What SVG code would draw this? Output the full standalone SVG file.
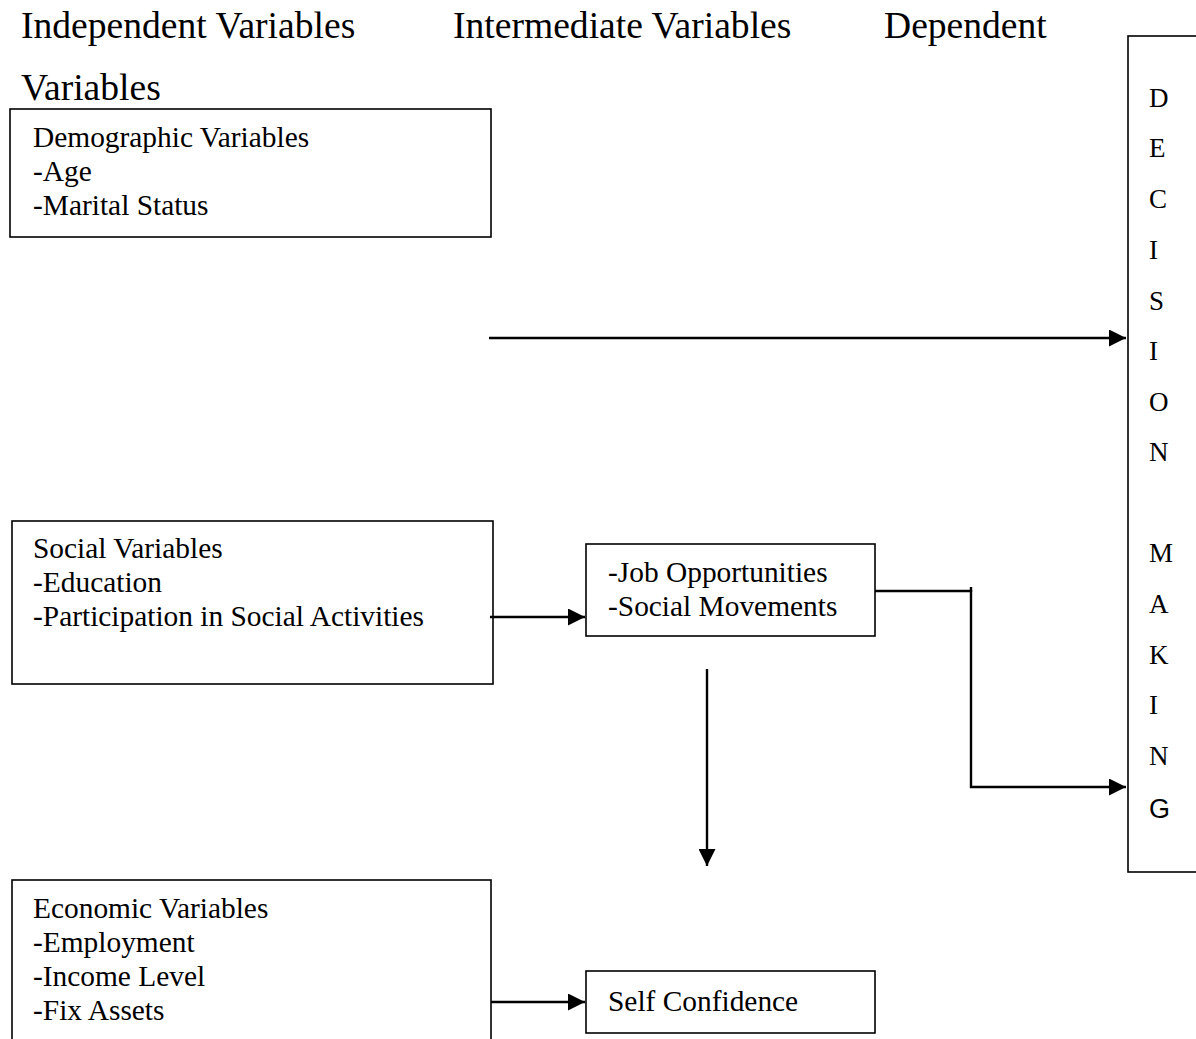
<svg xmlns="http://www.w3.org/2000/svg" width="1196" height="1039" viewBox="0 0 1196 1039">
<style>
.box{fill:#fff;stroke:#000;stroke-width:1.6}
.t{font-family:"Liberation Serif","Times New Roman",serif;font-size:29.4px;fill:#000}
.h{font-family:"Liberation Serif","Times New Roman",serif;font-size:37.6px;fill:#000}
.v{font-family:"Liberation Serif","Times New Roman",serif;font-size:27px;fill:#000}
.g{font-family:"Liberation Sans",Arial,sans-serif;font-size:27px;fill:#000}
.c{fill:none;stroke:#000;stroke-width:2.4}
</style>
<defs>
<marker id="ah" markerUnits="userSpaceOnUse" markerWidth="17" markerHeight="17" viewBox="0 0 17 17" refX="17" refY="8.5" orient="auto">
<path d="M0,0 L17,8.5 L0,17 z" fill="#000"/>
</marker>
</defs>
<rect width="1196" height="1039" fill="#fff"/>
<g id="headers">
<text class="h" x="21" y="38">Independent Variables</text>
<text class="h" x="453" y="38">Intermediate Variables</text>
<text class="h" x="884" y="38">Dependent</text>
<text class="h" x="21" y="100">Variables</text>
</g>
<g id="demographic">
<rect class="box" x="10" y="109" width="481" height="128"/>
<text class="t" x="33" y="147">Demographic Variables</text>
<text class="t" x="33" y="181">-Age</text>
<text class="t" x="33" y="215">-Marital Status</text>
</g>
<g id="social">
<rect class="box" x="12" y="521" width="481" height="163"/>
<text class="t" x="33" y="558">Social Variables</text>
<text class="t" x="33" y="592">-Education</text>
<text class="t" x="33" y="626">-Participation in Social Activities</text>
</g>
<g id="economic">
<rect class="box" x="12" y="880" width="479" height="170"/>
<text class="t" x="33" y="918">Economic Variables</text>
<text class="t" x="33" y="952">-Employment</text>
<text class="t" x="33" y="986">-Income Level</text>
<text class="t" x="33" y="1020">-Fix Assets</text>
</g>
<g id="intermediate">
<rect class="box" x="586" y="544" width="289" height="92"/>
<text class="t" x="608" y="582">-Job Opportunities</text>
<text class="t" x="608" y="616">-Social Movements</text>
</g>
<g id="selfconfidence">
<rect class="box" x="586" y="971" width="289" height="62"/>
<text class="t" x="608" y="1011">Self Confidence</text>
</g>
<g id="decision">
<rect class="box" x="1128" y="36" width="80" height="836"/>
<text class="v" x="1149" y="107">D</text>
<text class="v" x="1149" y="157">E</text>
<text class="v" x="1149" y="208">C</text>
<text class="v" x="1149" y="259">I</text>
<text class="v" x="1149" y="310">S</text>
<text class="v" x="1149" y="360">I</text>
<text class="v" x="1149" y="411">O</text>
<text class="v" x="1149" y="461">N</text>
<text class="v" x="1149" y="562">M</text>
<text class="v" x="1149" y="613">A</text>
<text class="v" x="1149" y="664">K</text>
<text class="v" x="1149" y="714">I</text>
<text class="v" x="1149" y="765">N</text>
<text class="g" x="1149" y="818">G</text>
</g>
<g id="connectors">
<line class="c" x1="489" y1="338" x2="1126" y2="338" marker-end="url(#ah)"/>
<line class="c" x1="490" y1="617" x2="585" y2="617" marker-end="url(#ah)"/>
<polyline class="c" points="875,591 971,591 971,787 1126,787" marker-end="url(#ah)"/>
<line class="c" x1="971" y1="587" x2="971" y2="592"/>
<line class="c" x1="707" y1="669" x2="707" y2="866" marker-end="url(#ah)"/>
<line class="c" x1="491" y1="1002" x2="585" y2="1002" marker-end="url(#ah)"/>
</g>
</svg>
